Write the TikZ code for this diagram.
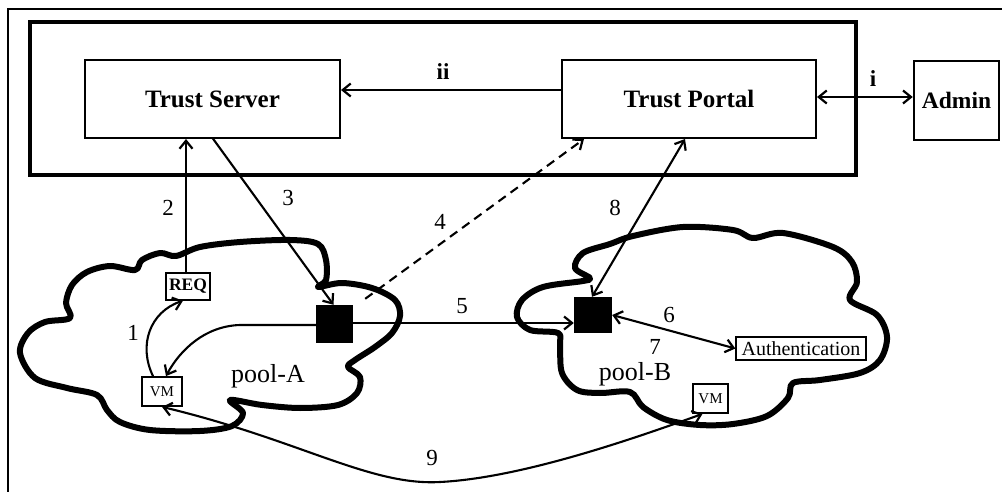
\documentclass[tikz,border=0pt]{standalone}
\usepackage{fontspec}
\setmainfont{Liberation Serif}
\usetikzlibrary{arrows.meta}
\begin{document}
\begin{tikzpicture}[x=1pt,y=-1pt,
  bigbox/.style={draw,line width=2pt,inner sep=0pt,font=\fontsize{25}{30}\selectfont\bfseries},
  smallbox/.style={draw,line width=1.3pt,inner sep=1.5pt,font=\fontsize{#1}{#1}\selectfont},
  blk/.style={fill=black,inner sep=0pt},
  lbl/.style={inner sep=0pt,font=\fontsize{23}{26}\selectfont},
  pool/.style={inner sep=0pt,font=\fontsize{26}{30}\selectfont},
  tip/.tip={Straight Barb[length=8pt,width=13pt,line width=2.2pt]},
  conn/.style={line width=2.1pt},
  cloudline/.style={line width=6pt,line join=round,fill=white}]
\useasboundingbox (0,0) rectangle (1002,492);
\clip (0,0) rectangle (1002,492);
\fill[white] (0,0) rectangle (1002,492);
% outer frame
\draw[line width=1.5pt] (8,500) -- (8,9) -- (1010,9);
% thick container
\node[draw,line width=4.5pt,minimum width=826,minimum height=153,inner sep=0pt] (core) at (443,98.5) {};
\node[bigbox,minimum width=255,minimum height=78] (ts) at (212.5,99) {Trust Server};
\node[bigbox,minimum width=254,minimum height=78] (tp) at (689,99) {Trust Portal};
\node[bigbox,line width=2.5pt,minimum width=85,minimum height=79,font=\fontsize{23.5}{28}\selectfont\bfseries] (admin) at (956.5,100.5) {Admin};
% clouds
\draw[cloudline] plot[smooth cycle,tension=0.55] coordinates {
 (20,353) (28,333) (45,322) (70,318) (66,303) (72,285) (87,272) (110,266) (135,270)
 (142,260) (160,253) (176,256) (200,247) (240,242) (290,240) (318,244) (326,260)
 (326,280) (318,287) (342,283) (372,288) (395,300) (400,316) (392,333) (375,347)
 (355,360) (348,367) (360,377) (357,393) (338,405) (300,408) (262,405) (230,400)
 (243,413) (232,426) (200,431) (150,430) (120,422) (107,410) (97,395) (67,388)
 (35,378)};
\draw[cloudline] plot[smooth cycle,tension=0.55] coordinates {
 (517,317) (522,300) (543,287) (583,281) (590,278) (575,268) (583,253) (610,244)
 (633,236) (683,227) (733,230) (753,238) (783,233) (833,247) (852,262) (857,282)
 (850,300) (877,315) (887,337) (880,360) (860,373) (820,380) (793,383) (788,398)
 (767,416) (733,424) (700,425) (667,420) (643,407) (630,392) (600,393) (577,390)
 (562,373) (560,345) (558,333) (530,330)};
% small nodes
\node[smallbox=17.5,minimum width=44,minimum height=27,inner sep=0pt,font=\fontsize{17.5}{18}\selectfont\bfseries] (req) at (188,286.5) {REQ};
\node[smallbox=15,line width=1.8pt,minimum width=40,minimum height=29,inner sep=0pt] (vma) at (162,391.5) {VM};
\node[smallbox=15,line width=1.8pt,minimum width=35,minimum height=29,inner sep=0pt] (vmb) at (710.5,398.5) {VM};
\node[smallbox=20,minimum width=130,minimum height=23,inner sep=0pt] (auth) at (801,348.5) {Authentication};
\node[blk,minimum width=37,minimum height=38] (sqa) at (334.5,324) {};
\node[blk,minimum width=38,minimum height=36] (sqb) at (593,315) {};
% pool labels
\node[pool] (pa) at (268,376) {pool-A};
\node[pool] (pb) at (635,374) {pool-B};
% connectors
\draw[conn,-tip] ([yshift=9pt]tp.west) -- ([yshift=9pt]tp.west -| ts.east);
\draw[conn,tip-tip] ([yshift=2pt]tp.east) -- ([yshift=2pt]tp.east -| admin.west);
\draw[conn,-tip] ([xshift=-2pt]req.north) -- ([xshift=-2pt]req.north |- ts.south);
\draw[conn,-tip] (232,138 -| ts.south) -- ([xshift=-1pt]sqa.north);
\draw[conn,dashed,dash pattern=on 9pt off 6pt,-tip] ([xshift=12pt,yshift=6pt]sqa.north east) -- ([xshift=23pt]tp.south west);
\draw[conn,tip-tip] ([xshift=-4pt]tp.south) -- ([xshift=-1pt]sqb.north);
\draw[conn,-tip] ([yshift=1pt]sqa.east) -- ([yshift=1pt]sqa.east -| sqb.west);
\draw[conn,tip-tip] (sqb.east) -- (auth.west);
\draw[conn,-tip] ([xshift=-9pt]vma.north) .. controls (138,345) and (150,312) .. ([xshift=-5pt]req.south);
\draw[conn,-tip] ([yshift=-1pt]sqa.west) -- (240,325) .. controls (205,326) and (180,350) .. ([xshift=4pt]vma.north);
\draw[conn,tip-tip] (vma.south) .. controls (300,440) and (370,486) .. (440,482) .. controls (520,478) and (630,440) .. ([xshift=-8pt]vmb.south);
% labels
\node[lbl,font=\fontsize{23}{26}\selectfont\bfseries] (lii) at (443,72) {ii};
\node[lbl,font=\fontsize{23}{26}\selectfont\bfseries] (li) at (873,79) {i};
\node[lbl] (l1) at (133,333) {1};
\node[lbl] (l2) at (168,208) {2};
\node[lbl] (l3) at (288,198) {3};
\node[lbl] (l4) at (440,222) {4};
\node[lbl] (l5) at (462,306) {5};
\node[lbl] (l6) at (669,315) {6};
\node[lbl] (l7) at (655,347) {7};
\node[lbl] (l8) at (615,208) {8};
\node[lbl] (l9) at (432,458) {9};
\end{tikzpicture}
\end{document}
